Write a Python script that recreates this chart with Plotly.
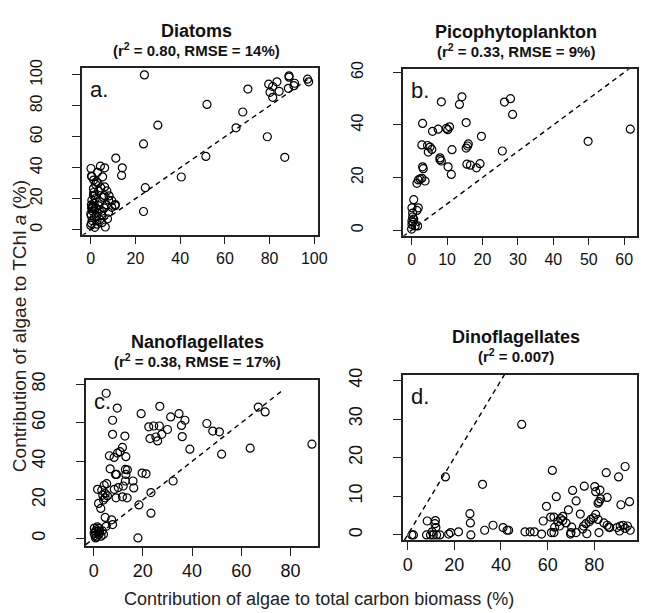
import plotly.graph_objects as go

# ---------------- data ----------------
diatoms_x = [24, 70.3, 52, 68, 30, 65, 79, 23.6, 51.5, 86.8, 11.2, 14.1, 13.8, 40.5, 24.4, 23.6, 11,
             79.6, 81.4, 83.3, 80.2, 81.4, 84.3, 88.7, 88.7, 88.4, 90.9, 91.2, 97, 97.5,
             0.1, 0.3, 0.5, 4.3, 6.2, 5.3, 2.1, 1.3, 6.2, 7.2, 8.2, 9.4, 5.7, 0.6, 0.8, 0.4, 1, 0, 0.6, 0,
             6.5, 2.8, 5, 7.9, 10.9, 9.4, 3.5, 2, 4.2, 7, 5, 2.8, 1.5, 2.8, 5, 1.3, 3.2, 1.2, 2, 0.5,
             3.5, 4.5, 1.5, 2.5, 0.3, 1.8, 3.8, 6, 4, 7.5, 0.2, 1.2, 3, 2.5, 6, 8, 0.8, 2.2, 0.3, 1.6]
diatoms_y = [100, 90.8, 80.9, 76, 67.5, 65.8, 60, 55.4, 47.3, 46.7, 46.2, 39.9, 35, 34, 27.1, 11.7, 16.2,
             94, 92.5, 95.5, 88.7, 85.5, 89.4, 99.4, 98.5, 91.3, 93, 94.6, 97.2, 95.5,
             39.5, 34.6, 34.2, 41, 39.9, 34.1, 29.3, 24, 27.6, 25, 21.8, 18.7, 20.8, 14.4, 15, 13.8, 14.8, 10.2, 5.9, 2.7,
             1.7, 5.9, 9.1, 11.2, 15.5, 14.4, 15.5, 20, 18, 16, 12, 11, 7.5, 3.5, 4.5, 32, 30, 22, 22.5, 19,
             25, 27, 17, 8.5, 4, 1.5, 12.5, 14, 6.5, 7, 9, 26.5, 37, 31, 22, 19, 12, 14, 16, 12.8]

pico_x = [14.2, 13.5, 8.4, 27.9, 26.2, 28.5, 3.1, 15.4, 5.9, 7.5, 9.8, 10.7, 10.2, 19.7, 2.9, 4.5, 5.2, 5.7,
          4.7, 11.4, 15.4, 16, 15.8, 25.6, 8, 8.4, 8, 15.6, 16.6, 19.3, 18.3, 10.3, 11.2, 3.1, 3.3, 2.9,
          1.9, 1.5, 3.8, 2.4, 0.6, 0.1, 1.9, 1.5, 0.3, 0.3, 0.1, 0.1, 1, 0, 0.4, 1.7, 0.6, 49.8, 61.7]
pico_y = [50.7, 47.8, 48.8, 50, 48.7, 44, 40.6, 40.9, 37.6, 38.4, 38.7, 39.3, 38.2, 35.7, 32.4, 32.2, 31.6, 30.7,
          29.7, 30.6, 31.2, 32.8, 32, 30.1, 27.5, 26.3, 26.8, 25.1, 24.7, 25.3, 23.7, 24.1, 21.2, 24.1, 23.4, 19.7,
          19.1, 17.8, 18.7, 19.5, 11.6, 8.5, 8.5, 7.5, 6.5, 5, 3.5, 2.2, 1.6, 0.4, 3, 1.6, 4.2, 33.8, 38.4]

nano_x = [5.1, 9.6, 7.7, 19.3, 26.9, 31.3, 34.7, 37.1, 35.7, 36, 46, 48.4, 51.1, 52, 63.6, 66.9, 69.7, 88.7,
          39.1, 22.4, 24.4, 26.7, 22.9, 25.3, 26, 27.7, 30, 7.7, 12.7, 11.7, 9.7, 10.7, 13.1, 6.4, 8.3,
          6.7, 8.9, 9.3, 12.9, 13.7, 19.7, 21.3, 13.1, 12.9, 16, 16.3, 12, 8.4, 10, 32.3, 9.1, 11.7, 13.6,
          1.6, 4.3, 3.3, 5.3, 3.7, 4.7, 2, 2.9, 4.7, 5.6, 4, 18.4, 23.3, 23.3, 18, 4.7, 7.3, 7.7, 5.1,
          0.3, 0.7, 1.2, 2, 0.5, 2.5, 3, 1.2, 3.5, 0.2, 1.5, 2.2, 0.8, 1.8, 4]
nano_y = [75.3, 67.6, 61.3, 64.7, 68.5, 63, 64.7, 61.3, 58.6, 52.8, 59.6, 55.7, 55.3, 43.7, 46.8, 68.1, 65.6, 48.9,
          46.3, 57.9, 58.3, 58.3, 51.8, 52.6, 50.6, 54, 56.5, 54, 53.1, 47.2, 44.3, 45, 42.4, 42.9, 42,
          36.1, 33.2, 33.2, 35.8, 35.6, 33.9, 33.5, 33.2, 29.8, 29.8, 26.2, 27.2, 25.5, 26.4, 29.8, 21.1, 21.6, 21.1,
          25.5, 27.6, 25, 28.4, 22.5, 21.1, 18.2, 15.6, 23.3, 22.1, 19.9, 17.4, 23.8, 13.1, 0.3, 10.9, 9.7, 7.2, 6.3,
          5.4, 3.7, 4.5, 2, 1.5, 3, 1.2, 0.8, 4, 2.8, 6, 5.2, 0.3, 3.5, 2.2]

dino_x = [16.2, 32.1, 26.7, 26.9, 27.1, 8.4, 11.9, 11.7, 12.1, 8.1, 9.8, 11, 12.4, 13.8, 10.5, 1.8, 2.5,
          17.6, 18.4, 21.8, 33, 36.6, 40.9, 42.6, 43.3,
          48.9, 62, 70.7, 75.7, 80.2, 80.6, 82.4, 85.1, 90.4, 93.2, 63.7, 72.2, 85.5, 82.7, 82, 81.6, 91.4, 95.1,
          59.5, 68.9, 66.5, 65.5, 62.7, 74, 80.6, 61.3, 58.1, 64.4, 66.5, 67.9, 65.1, 63, 75.4, 76.4, 77.8,
          78.5, 79.6, 81.6, 84.1, 85.5, 86.2, 70.3, 70, 69.8, 72.2, 76.8, 82, 75, 50.3, 52.5, 54.3, 57.4,
          61.6, 62.7, 89.7, 91.1, 92.3, 93.2, 94.2, 95.4, 90.8, 86.6]
dino_y = [15, 13.1, 5.5, 3.1, 0, 3.6, 3.7, 2.9, 1.9, 0, 0, 0, 0, 0, 0.8, 0, 0,
          0.2, 0.6, 0.8, 1.2, 2.5, 1.9, 1.2, 1.2,
          28.6, 16.7, 11.5, 12.6, 12.5, 11.2, 11.6, 16.1, 15, 17.7, 9.9, 8.8, 9.7, 9.3, 8.6, 8.2, 7.8, 8.6,
          7.4, 6.5, 4.8, 4.2, 4.6, 5.4, 5.3, 4.6, 3.6, 3.4, 3.7, 3.1, 2.3, 2, 2.3, 2.9, 3.4,
          4, 4.4, 4, 3.1, 2.5, 2, 2, 0.6, 0.2, 0.6, 0.3, 0.6, 1.5, 0.8, 0.8, 0.8, 0.2,
          0.6, 0.6, 1.9, 2.3, 2.5, 1.7, 2.3, 1.2, 1, 1.9]

# reference (1:1) line end points per panel
line_a = [-4, 97]
line_b = [-2.5, 61.5]
line_c = [-3.2, 77]
line_d = [-1.35, 41.5]

titles = ["Diatoms", "Picophytoplankton", "Nanoflagellates", "Dinoflagellates"]
subtitles = ["(r<sup>2</sup> = 0.80, RMSE = 14%)", "(r<sup>2</sup> = 0.33, RMSE = 9%)",
             "(r<sup>2</sup> = 0.38, RMSE = 17%)", "(r<sup>2</sup> = 0.007)"]
letters = ["a.", "b.", "c.", "d."]

x_ticks = [[0, 20, 40, 60, 80, 100], [0, 10, 20, 30, 40, 50, 60], [0, 20, 40, 60, 80], [0, 20, 40, 60, 80]]
y_ticks = [[0, 20, 40, 60, 80, 100], [0, 20, 40, 60], [0, 20, 40, 60, 80], [0, 10, 20, 30, 40]]

# ---------------- figure ----------------
OFF = 8                      # default page body margin
W, H = 648 - OFF, 613 - OFF  # figure size so it fills the window after the margin
FONT = "Liberation Sans, Arial, sans-serif"


def px_x(p):
    return (p - OFF) / W


def px_y(p):
    return 1 - (p - OFF) / H


# plot boxes in window pixels: (left, right, top, bottom)
boxes = [(83, 323, 60, 229), (409, 647, 61, 230), (87, 323, 376, 545), (409, 647, 371, 539)]
x_ranges = [[-4.0, 101.7], [-2.5, 63.6], [-3.2, 91.2], [-2.1, 98.3]]
y_ranges = [[-3.3, 104.3], [-2.1, 61.2], [-3.9, 82.4], [-1.35, 41.5]]
tick_sizes = [16, 16, 18, 18]

series = [(diatoms_x, diatoms_y, line_a), (pico_x, pico_y, line_b),
          (nano_x, nano_y, line_c), (dino_x, dino_y, line_d)]

fig = go.Figure()
annotations = []
layout_axes = {}
for i, ((xs, ys, ln), box) in enumerate(zip(series, boxes)):
    n = "" if i == 0 else str(i + 1)
    xa, ya = "x" + n, "y" + n
    fig.add_trace(go.Scatter(x=ln, y=ln, mode="lines", xaxis=xa, yaxis=ya,
                             line=dict(color="black", width=1.4, dash="5px,4px"),
                             hoverinfo="skip", showlegend=False))
    fig.add_trace(go.Scatter(x=xs, y=ys, mode="markers", xaxis=xa, yaxis=ya,
                             marker=dict(symbol="circle-open", size=8, color="black",
                                         line=dict(width=1.2)),
                             showlegend=False))
    l, r, t, b = box
    common = dict(showline=True, linecolor="#222", linewidth=1.5, mirror=True,
                  ticks="outside", ticklen=8, tickwidth=1.3, tickcolor="#222",
                  showgrid=False, zeroline=False,
                  tickfont=dict(size=tick_sizes[i], color="#111", family=FONT))
    layout_axes["xaxis" + n] = dict(domain=[px_x(l), min(px_x(r), 1.0)], range=x_ranges[i], anchor=ya,
                                    tickvals=x_ticks[i], **common)
    layout_axes["yaxis" + n] = dict(domain=[px_y(b), px_y(t)], range=y_ranges[i], anchor=xa,
                                    tickvals=y_ticks[i], tickangle=-90, ticklabelstandoff=24,
                                    **common)
    cx = (l + r) / 2 - 4
    annotations.append(dict(text="<b>" + titles[i] + "</b>", x=px_x(cx), y=px_y(t - 38),
                            xref="paper", yref="paper", showarrow=False,
                            font=dict(size=18, color="#111", family=FONT),
                            xanchor="center", yanchor="middle"))
    annotations.append(dict(text="<b>" + subtitles[i] + "</b>", x=px_x(cx), y=px_y(t - 19),
                            xref="paper", yref="paper", showarrow=False,
                            font=dict(size=15, color="#111", family=FONT),
                            xanchor="center", yanchor="middle"))
    annotations.append(dict(text=letters[i], x=px_x(l + 6), y=px_y(t + 22),
                            xref="paper", yref="paper", showarrow=False,
                            font=dict(size=22, color="#111", family=FONT),
                            xanchor="left", yanchor="middle"))

annotations.append(dict(text="Contribution of algae to total carbon biomass (%)",
                        x=px_x(324), y=px_y(599), xref="paper", yref="paper", showarrow=False,
                        font=dict(size=18, color="#222", family=FONT),
                        xanchor="center", yanchor="middle"))
annotations.append(dict(text="Contribution of algae to TChl <i>a</i> (%)",
                        x=px_x(20), y=px_y(322), xref="paper", yref="paper", showarrow=False,
                        textangle=-90, font=dict(size=19, color="#222", family=FONT),
                        xanchor="center", yanchor="middle"))

fig.update_layout(width=W, height=H, margin=dict(l=0, r=0, t=0, b=0),
                  paper_bgcolor="white", plot_bgcolor="white",
                  annotations=annotations, showlegend=False, **layout_axes)

fig.write_html("out.html")
